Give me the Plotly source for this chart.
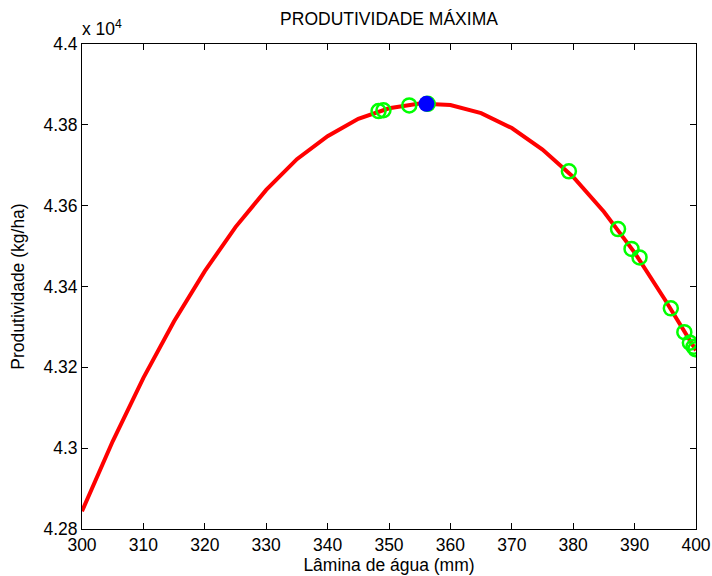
import plotly.graph_objects as go

# Curve: water depth (mm) vs productivity (kg/ha)
lamina = [300, 305, 310, 315, 320, 325, 330, 335, 340, 345, 350, 355,
          360, 365, 370, 375, 380, 385, 390, 395, 400]
produtividade = [42844, 43017, 43174, 43314, 43438, 43547, 43639, 43715,
                 43772, 43815, 43841, 43853, 43849, 43829, 43792, 43739,
                 43671, 43585, 43484, 43366, 43242]

# Green open-circle points
pontos_x = [348.3, 349.1, 353.3, 356.3, 379.3, 387.3, 389.5, 390.8,
            395.9, 398.1, 399.0, 399.6, 399.9]
pontos_y = [43834, 43836, 43848, 43852, 43685, 43542, 43493, 43472,
            43346, 43287, 43261, 43251, 43245]

# Maximum point (blue)
max_x = [356.1]
max_y = [43852]

x_ticks = [300, 310, 320, 330, 340, 350, 360, 370, 380, 390, 400]
y_ticks = [42800, 43000, 43200, 43400, 43600, 43800, 44000]
y_ticktext = ["4.28", "4.3", "4.32", "4.34", "4.36", "4.38", "4.4"]

FONT = "Liberation Sans, Arial, sans-serif"
FS = 17.5

fig = go.Figure()
fig.add_trace(go.Scatter(x=lamina, y=produtividade, mode="lines",
                         line=dict(color="#ff0000", width=4),
                         showlegend=False, hoverinfo="skip"))
fig.add_trace(go.Scatter(x=pontos_x, y=pontos_y, mode="markers",
                         marker=dict(symbol="circle-open", size=14,
                                     color="#00ff00",
                                     line=dict(color="#00ff00", width=2.5)),
                         showlegend=False))
fig.add_trace(go.Scatter(x=max_x, y=max_y, mode="markers",
                         marker=dict(symbol="circle", size=16, color="#0000ff",
                                     line=dict(width=0)),
                         showlegend=False))

axis_common = dict(showline=True, linecolor="black", linewidth=1,
                   mirror="ticks", ticks="inside", ticklen=6,
                   tickcolor="black", tickwidth=1, showgrid=False,
                   zeroline=False, automargin=False,
                   tickfont=dict(family=FONT, size=FS, color="black"))

fig.update_layout(
    width=712, height=576,
    margin=dict(l=82, r=16, t=44, b=47),
    paper_bgcolor="white", plot_bgcolor="white",
    font=dict(family=FONT, size=FS, color="black"),
    title=dict(text="PRODUTIVIDADE MÁXIMA", x=389 / 712,
               xanchor="center", y=1 - 19 / 576, yanchor="middle",
               font=dict(family=FONT, size=FS, color="black")),
    xaxis=dict(range=[300, 400], tickvals=x_ticks,
               title=dict(text="Lâmina de água (mm)", standoff=4,
                          font=dict(family=FONT, size=FS, color="black")),
               **axis_common),
    yaxis=dict(range=[42800, 44000], tickvals=y_ticks, ticktext=y_ticktext,
               title=dict(text="Produtividade (kg/ha)", standoff=14,
                          font=dict(family=FONT, size=FS, color="black")),
               **axis_common),
    annotations=[dict(text="x 10<sup>4</sup>", xref="paper", yref="paper",
                      x=0, y=1, xanchor="left", yanchor="bottom",
                      xshift=-2, yshift=3, showarrow=False,
                      font=dict(family=FONT, size=FS, color="black"))],
)

fig.write_html("out.html",
               config={"displayModeBar": False},
               post_script="document.body.style.margin='0';"
                           "document.body.style.overflow='hidden';")
